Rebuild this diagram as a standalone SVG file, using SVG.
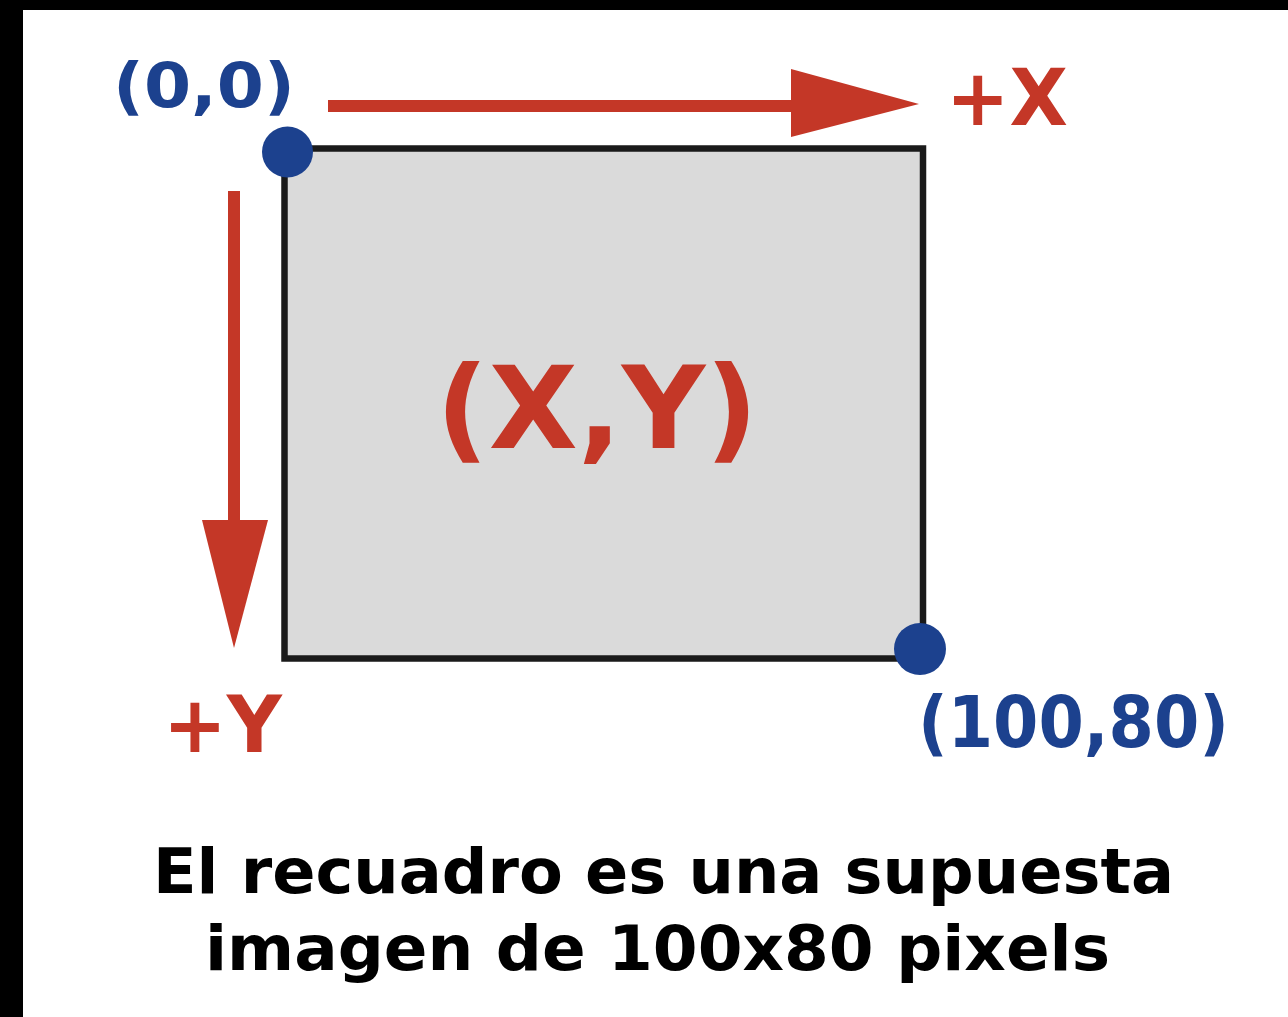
<svg xmlns="http://www.w3.org/2000/svg" width="1288" height="1017" viewBox="0 0 1288 1017">
<style>
.t{font-family:"DejaVu Sans","Verdana",sans-serif;font-weight:bold}
.red{fill:#c43727}
.blue{fill:#1c418e}
.blk{fill:#000}
</style>
<rect x="0" y="0" width="1288" height="1017" fill="#fff"/>
<rect x="0" y="0" width="1288" height="10" fill="#000"/>
<rect x="0" y="0" width="23" height="1017" fill="#000"/>
<g id="image-box">
<rect x="284.5" y="148.5" width="638.5" height="510" fill="#dadada" stroke="#1a1a1a" stroke-width="6.5"/>
<text class="t red" x="436" y="448" font-size="114" textLength="322" lengthAdjust="spacingAndGlyphs">(X,Y)</text>
</g>
<g id="connectors">
<line x1="328" y1="106" x2="800" y2="106" stroke="#c43727" stroke-width="12"/>
<polygon points="791,69 919,104 791,137" fill="#c43727"/>
<line x1="234" y1="191" x2="234" y2="530" stroke="#c43727" stroke-width="12"/>
<polygon points="202,520 268,520 234,648" fill="#c43727"/>
</g>
<g id="origin">
<circle cx="287.5" cy="152" r="25.5" fill="#1c418e"/>
<text class="t blue" x="113" y="107" font-size="63" textLength="182" lengthAdjust="spacingAndGlyphs">(0,0)</text>
</g>
<g id="corner">
<circle cx="920" cy="649" r="26" fill="#1c418e"/>
<text class="t blue" x="918" y="747" font-size="72" textLength="311" lengthAdjust="spacingAndGlyphs">(100,80)</text>
</g>
<g id="plus-x">
<text class="t red" x="946" y="125" font-size="78" textLength="122" lengthAdjust="spacingAndGlyphs">+X</text>
</g>
<g id="plus-y">
<text class="t red" x="163" y="752" font-size="78" textLength="119" lengthAdjust="spacingAndGlyphs">+Y</text>
</g>
<g id="caption">
<text class="t blk" x="153" y="893" font-size="62" textLength="1021" lengthAdjust="spacingAndGlyphs">El recuadro es una supuesta</text>
<text class="t blk" x="205" y="970" font-size="62" textLength="905" lengthAdjust="spacingAndGlyphs">imagen de 100x80 pixels</text>
</g>
</svg>
